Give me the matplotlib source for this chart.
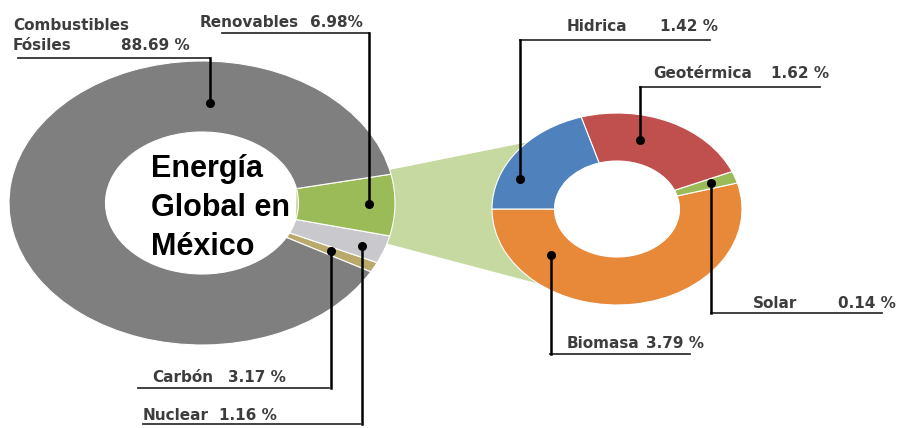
import numpy as np
import matplotlib
matplotlib.use("Agg")
import matplotlib.pyplot as plt
from matplotlib.patches import Polygon

# -------------------------------
# Data
# -------------------------------
left_names = ['Nuclear', 'Carbón', 'Renovables', 'Combustibles\nFósiles']
left_values = [1.16, 3.17, 6.98, 88.69]
left_suffix = [' %', ' %', '%', ' %']
left_colors = ['#b9aa6c', '#c9c9cd', '#9bbb59', '#7f7f7f']

right_names = ['Biomasa', 'Solar', 'Geotérmica', 'Hidrica']
right_values = [3.79, 0.14, 1.62, 1.42]
right_colors = ['#e8893a', '#9bbb59', '#c0504d', '#4f81bd']

center_title = 'Energía\nGlobal en\nMéxico'

W, H = 907, 428
fig = plt.figure(figsize=(W / 100, H / 100), dpi=100)

# helper: pixel box (x0, top, width, height) -> figure fraction
def box(x0, top, w, h):
    return [x0 / W, (H - top - h) / H, w / W, h / H]

bg = fig.add_axes([0, 0, 1, 1], zorder=0)
ax_l = fig.add_axes(box(9, 61, 386, 284), zorder=1)
ax_r = fig.add_axes(box(492, 113, 250, 192), zorder=1)
ov = fig.add_axes([0, 0, 1, 1], zorder=3)

for a in (bg, ov):
    a.set_xlim(0, W)
    a.set_ylim(H, 0)
    a.axis('off')
    a.patch.set_alpha(0)

# -------------------------------
# Donuts (stretched into ellipses)
# -------------------------------
ax_l.pie(left_values, colors=left_colors, startangle=-29, counterclock=True,
         radius=1, wedgeprops=dict(width=0.5, edgecolor='white', linewidth=0.8))
ax_r.pie(right_values, colors=right_colors, startangle=180, counterclock=True,
         radius=1, wedgeprops=dict(width=0.5, edgecolor='white', linewidth=0.8))
for a in (ax_l, ax_r):
    a.set_aspect('auto')
    a.set_xlim(-1, 1)
    a.set_ylim(-1, 1)
    a.axis('off')


def to_px(ax, ang, r):
    t = np.deg2rad(ang)
    p = ax.transData.transform((r * np.cos(t), r * np.sin(t)))
    return ov.transData.inverted().transform(p)


# connector from the green slice to the second donut
a0 = -29 + (left_values[0] + left_values[1]) / 100 * 360
a1 = a0 + left_values[2] / 100 * 360
poly = [to_px(ax_l, a1, 0.5), to_px(ax_r, 136, 1.0),
        to_px(ax_r, 231, 1.0), to_px(ax_l, a0, 0.5)]
bg.add_patch(Polygon(poly, closed=True, facecolor='#c5d9a0', edgecolor='none'))

# centre text (baseline = last line)
ov.text(151, 255, center_title, fontsize=22, fontweight='bold',
        family='Liberation Sans', color='black', va='baseline',
        linespacing=1.4, ha='left')

# -------------------------------
# Labels with leader lines
# name x, value x, baseline y, line x0, line x1, line y, anchor angle, anchor r
# -------------------------------
left_layout = {
    'Combustibles\nFósiles': (13, 121, 50, 18, 210, 58, 86.7, 0.705),
    'Renovables': (200, 310, 27, 222, 369, 33, -0.5, 0.865),
    'Carbón': (152, 228, 382, 138, 329, 388, -27.0, 0.75),
    'Nuclear': (143, 219, 420, 143, 360, 424, -20.0, 0.88),
}
right_layout = {
    'Hidrica': (567, 660, 31, 520, 710, 40, 158, 0.837),
    'Geotérmica': (653, 771, 78, 640, 820, 87, 75.6, 0.742),
    'Solar': (753, 838, 308, 711, 882, 313, 19.5, 0.80),
    'Biomasa': (567, 646, 348, 550, 690, 354, 222, 0.713),
}

label_kw = dict(fontsize=11, fontweight='bold', color='#3d3d3d',
                family='DejaVu Sans', va='baseline', ha='left')


def draw_label(ax, name, value, suffix, lay):
    nx, vx, by, lx0, lx1, ly, ang, r = lay
    lines = name.split('\n')
    for i, ln in enumerate(lines):
        ov.text(nx, by - (len(lines) - 1 - i) * 20, ln, **label_kw)
    ov.text(vx, by, f'{value:.2f}{suffix}', **label_kw)
    dx, dy = to_px(ax, ang, r)
    ov.plot([lx0, lx1], [ly, ly], color='#333333', lw=1.3)
    ov.plot([dx, dx], [ly, dy], color='black', lw=1.8)
    ov.plot(dx, dy, 'o', color='black', ms=5.5)


for n, v, s in zip(left_names, left_values, left_suffix):
    draw_label(ax_l, n, v, s, left_layout[n])
for n, v in zip(right_names, right_values):
    draw_label(ax_r, n, v, ' %', right_layout[n])

fig.savefig('out.png', dpi=100, facecolor='white')
